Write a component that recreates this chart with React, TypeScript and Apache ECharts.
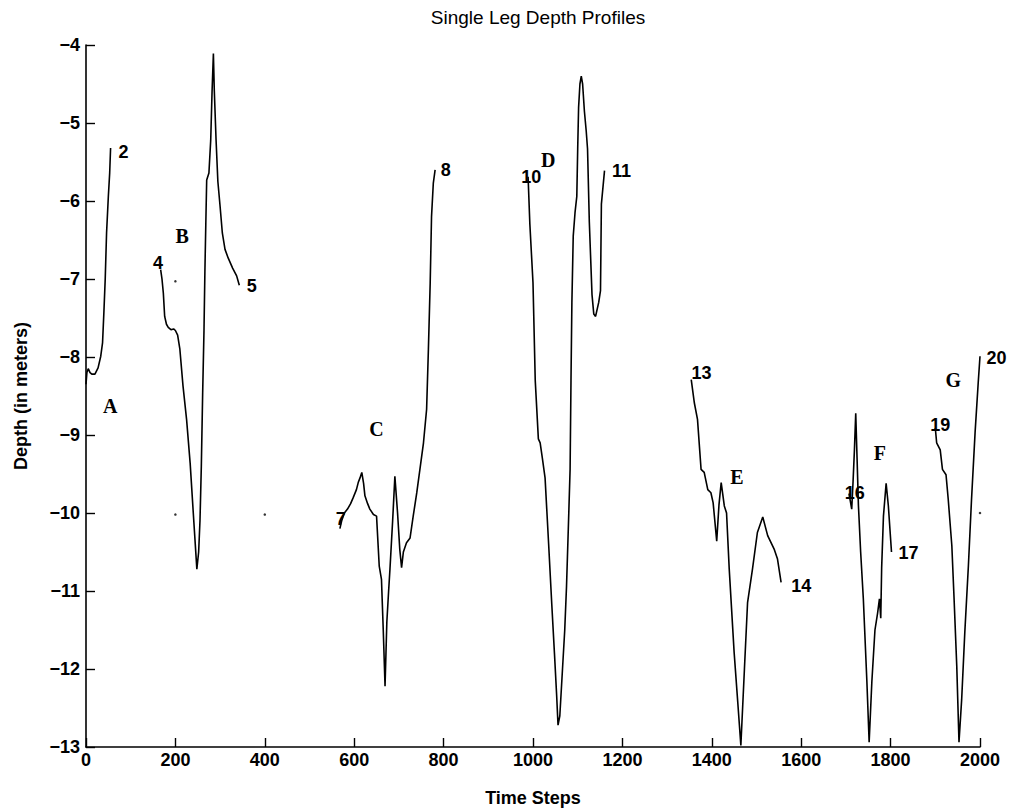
import React, { useEffect, useRef } from "react";
import * as echarts from "echarts";

const xTicks = [0, 200, 400, 600, 800, 1000, 1200, 1400, 1600, 1800, 2000];
const yTicks = [-13, -12, -11, -10, -9, -8, -7, -6, -5, -4];

const segA = [[0,-8.35],[2,-8.2],[5,-8.15],[9,-8.2],[13,-8.22],[20,-8.22],[27,-8.14],[33,-7.99],[37,-7.82],[40,-7.43],[43,-7.0],[46,-6.41],[50,-5.94],[53,-5.64],[55,-5.32]];
const segB = [[167,-6.88],[170,-7.0],[173,-7.18],[176,-7.48],[180,-7.58],[184,-7.62],[190,-7.65],[196,-7.64],[200,-7.66],[205,-7.72],[210,-7.9],[217,-8.37],[225,-8.8],[233,-9.36],[240,-10.0],[245,-10.45],[248,-10.72],[252,-10.5],[255,-10.1],[258,-9.4],[261,-8.46],[264,-7.65],[266,-6.9],[268,-6.3],[270,-5.73],[275,-5.64],[279,-5.22],[282,-4.6],[285,-4.11],[287,-4.58],[291,-5.22],[295,-5.75],[300,-6.07],[305,-6.41],[311,-6.62],[318,-6.73],[328,-6.86],[337,-6.96],[343,-7.08]];
const segC = [[568,-10.2],[572,-10.1],[578,-10.0],[585,-9.95],[592,-9.88],[598,-9.8],[605,-9.7],[609,-9.61],[613,-9.55],[617,-9.48],[621,-9.62],[624,-9.78],[630,-9.88],[635,-9.95],[643,-10.02],[650,-10.04],[656,-10.68],[661,-10.85],[665,-11.5],[669,-12.22],[673,-11.4],[677,-11.0],[680,-10.72],[686,-10.1],[691,-9.53],[697,-10.0],[702,-10.47],[706,-10.7],[710,-10.5],[717,-10.38],[725,-10.32],[732,-10.04],[740,-9.74],[747,-9.44],[755,-9.1],[762,-8.67],[766,-7.9],[770,-7.05],[773,-6.2],[777,-5.77],[781,-5.6]];
const segD = [[989,-5.69],[993,-6.3],[1000,-7.05],[1005,-8.3],[1012,-9.05],[1016,-9.1],[1021,-9.3],[1027,-9.55],[1035,-10.4],[1042,-11.17],[1048,-11.8],[1053,-12.35],[1056,-12.72],[1060,-12.6],[1066,-12.0],[1071,-11.5],[1075,-10.94],[1079,-10.2],[1083,-9.44],[1085,-8.3],[1087,-7.3],[1090,-6.45],[1094,-6.15],[1098,-5.94],[1100,-5.33],[1102,-4.8],[1105,-4.5],[1108,-4.4],[1111,-4.5],[1115,-4.85],[1119,-5.1],[1122,-5.33],[1126,-6.27],[1132,-7.2],[1136,-7.45],[1140,-7.48],[1147,-7.3],[1151,-7.15],[1153,-6.04],[1160,-5.61]];
const segE = [[1354,-8.29],[1361,-8.59],[1368,-8.8],[1376,-9.44],[1383,-9.48],[1391,-9.7],[1398,-9.74],[1403,-9.87],[1411,-10.36],[1416,-9.9],[1421,-9.61],[1428,-9.91],[1433,-10.0],[1439,-10.72],[1450,-11.79],[1458,-12.42],[1465,-12.98],[1473,-12.0],[1480,-11.15],[1491,-10.72],[1502,-10.25],[1514,-10.05],[1525,-10.29],[1540,-10.47],[1547,-10.59],[1555,-10.89]];
const segF = [[1707,-9.75],[1710,-9.85],[1713,-9.95],[1716,-9.6],[1719,-9.2],[1722,-8.72],[1725,-9.3],[1728,-9.9],[1733,-10.5],[1739,-11.1],[1747,-12.17],[1752,-12.94],[1758,-12.17],[1765,-11.5],[1771,-11.28],[1775,-11.1],[1778,-11.35],[1780,-10.7],[1784,-10.04],[1790,-9.62],[1795,-9.91],[1802,-10.5]];
const segG = [[1900,-8.91],[1903,-9.1],[1911,-9.19],[1916,-9.44],[1924,-9.51],[1929,-9.83],[1937,-10.42],[1942,-11.1],[1948,-11.96],[1953,-12.94],[1959,-12.39],[1966,-11.53],[1974,-10.68],[1981,-9.83],[1989,-8.97],[1996,-8.33],[2000,-7.99]];

const numberLabels = [[84,-5.37,"2"],[161,-6.79,"4"],[371,-7.09,"5"],[570,-10.08,"7"],[805,-5.6,"8"],[996,-5.69,"10"],[1198,-5.61,"11"],[1377,-8.21,"13"],[1600,-10.94,"14"],[1720,-9.74,"16"],[1840,-10.51,"17"],[1911,-8.87,"19"],[2037,-8.01,"20"]];
const letterLabels = [[54,-8.63,"A"],[215,-6.45,"B"],[650,-8.92,"C"],[1034,-5.47,"D"],[1456,-9.54,"E"],[1776,-9.23,"F"],[1940,-8.29,"G"]];
const specks = [[200,-7.03],[200,-10.02],[400,-10.02],[2000,-10.0]];

const segments = [segA, segB, segC, segD, segE, segF, segG];

export default function App() {
  const ref = useRef<HTMLDivElement>(null);
  useEffect(() => {
    if (!ref.current) return;
    const chart = echarts.init(ref.current, null, { renderer: "svg" });
    const sans = "'Liberation Sans', Arial, Helvetica, sans-serif";
    const serif = "'Liberation Serif', 'Times New Roman', serif";
    const lineSeries = segments.map((seg, i) => ({
      type: "line",
      name: "seg" + i,
      data: seg,
      showSymbol: false,
      symbol: "none",
      lineStyle: { color: "#000", width: 1.6 },
      silent: true,
    }));
    const labelBase = {
      show: true,
      position: "inside",
      align: "center",
      verticalAlign: "middle",
      color: "#000",
      opacity: 1,
      textBorderWidth: 0,
      formatter: (p: any) => p.data[2],
    };
    chart.setOption({
      animation: false,
      backgroundColor: "#fff",
      title: {
        text: "Single Leg Depth Profiles",
        left: 533,
        textAlign: "center",
        top: 3,
        textStyle: { fontFamily: sans, fontSize: 19, fontWeight: "normal", color: "#000" },
      },
      grid: { left: 86, right: 30, top: 45, bottom: 64, containLabel: false },
      xAxis: {
        type: "value",
        min: 0,
        max: 2000,
        interval: 200,
        name: "Time Steps",
        nameLocation: "middle",
        nameGap: 42,
        nameTextStyle: { fontFamily: sans, fontSize: 18, fontWeight: "bold", color: "#000" },
        axisLine: { show: true, lineStyle: { color: "#000", width: 1.6 } },
        axisTick: { show: true, inside: true, length: 9, lineStyle: { color: "#000", width: 1.4 } },
        axisLabel: {
          margin: 4,
          fontFamily: sans,
          fontSize: 18,
          fontWeight: "bold",
          color: "#000",
          formatter: (v: number) => (xTicks.includes(v) ? String(v) : ""),
        },
        splitLine: { show: false },
      },
      yAxis: {
        type: "value",
        min: -13,
        max: -4,
        interval: 1,
        name: "Depth (in meters)",
        nameLocation: "middle",
        nameGap: 56,
        nameRotate: 90,
        nameTextStyle: { fontFamily: sans, fontSize: 18, fontWeight: "bold", color: "#000" },
        axisLine: { show: true, lineStyle: { color: "#000", width: 1.6 } },
        axisTick: { show: true, inside: true, length: 9, lineStyle: { color: "#000", width: 1.4 } },
        axisLabel: {
          margin: 6,
          fontFamily: sans,
          fontSize: 18,
          fontWeight: "bold",
          color: "#000",
          formatter: (v: number) => (yTicks.includes(v) ? String(v).replace("-", "\u2212") : ""),
        },
        splitLine: { show: false },
      },
      series: [
        ...lineSeries,
        {
          type: "scatter",
          name: "specks",
          data: specks,
          symbol: "circle",
          symbolSize: 2.5,
          itemStyle: { color: "#000" },
          silent: true,
        },
        {
          type: "scatter",
          name: "numbers",
          data: numberLabels,
          clip: false,
          symbolSize: 0,
          itemStyle: { color: "#000" },
          silent: true,
          label: { ...labelBase, fontFamily: sans, fontSize: 18, fontWeight: "bold" },
        },
        {
          type: "scatter",
          name: "letters",
          data: letterLabels,
          clip: false,
          symbolSize: 0,
          itemStyle: { color: "#000" },
          silent: true,
          label: { ...labelBase, fontFamily: serif, fontSize: 20, fontWeight: "bold" },
        },
      ],
    });
    return () => chart.dispose();
  }, []);
  return (
    <div
      ref={ref}
      style={{ position: "absolute", left: 0, top: 0, width: 1010, height: 812, background: "#fff" }}
    />
  );
}
